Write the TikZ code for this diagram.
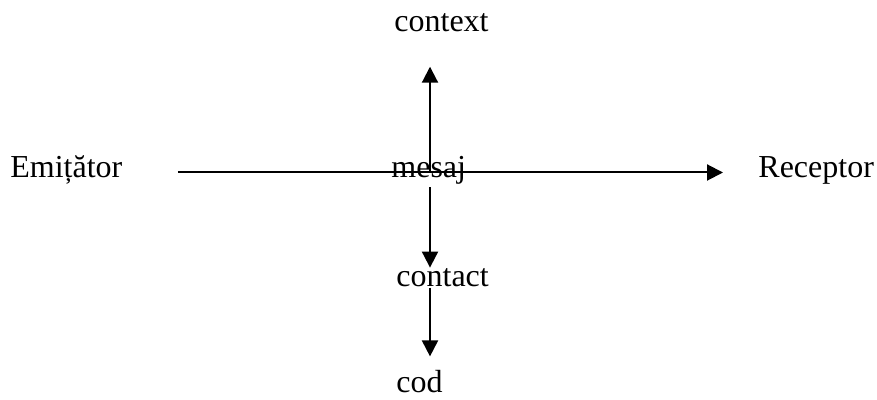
\documentclass[tikz,border=0pt]{standalone}
\usepackage{fontspec}
\setmainfont{Liberation Serif}
\usetikzlibrary{arrows.meta}

\begin{document}
\begin{tikzpicture}[x=0.5pt, y=-0.5pt,
		lbl/.style={inner sep=0pt, anchor=base west, font=\fontsize{16}{19}\selectfont},
		arr/.style={line width=1pt, -{Triangle[width=8pt, length=8pt]}}]
		%%%%% START %%%%%
		\useasboundingbox (0, 0) rectangle (877, 400);
		
		\node[lbl] (emit) at (10, 178) {Emițător};
		\node[lbl] (recv) at (758, 178) {Receptor};
		\node[lbl] (mesaj) at (391, 178) {mesaj};
		\node[lbl] (context) at (394, 32) {context};
		\node[lbl] (contact) at (396, 287) {contact};
		\node[lbl] (cod) at (396, 393) {cod};
		
		\coordinate (hub) at (430, 172.5);
		
		\draw[arr, shorten <=27.5pt, shorten >=17.5pt] (emit.east |- hub) -- (recv.west |- hub);
		\draw[arr, shorten >=17pt] (hub) -- (hub |- context.south);
		\draw[arr, shorten <=1pt, shorten >=0.5pt] (hub |- mesaj.south) -- (hub |- contact.north);
		\draw[arr, shorten >=7pt] (hub |- contact.south) -- (hub |- cod.north);
		%%%%% END %%%%%
	\end{tikzpicture}
\end{document}
